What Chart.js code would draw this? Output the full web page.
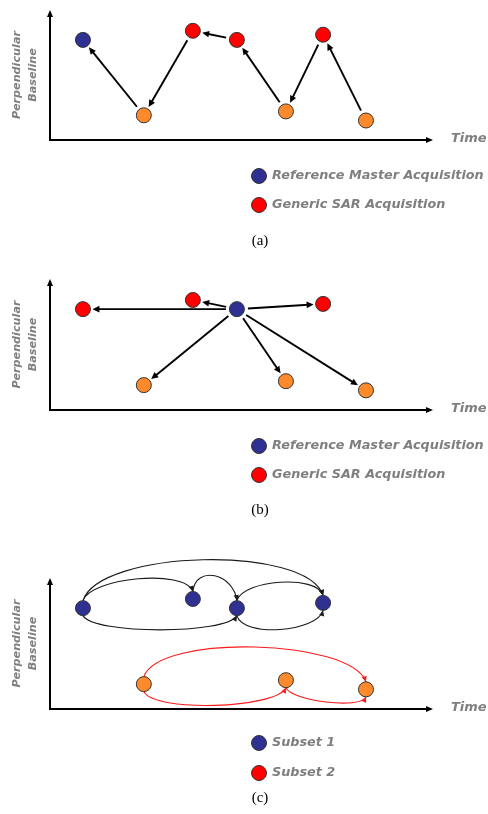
<!DOCTYPE html>
<html>
<head>
<meta charset="utf-8">
<script src="https://cdn.jsdelivr.net/npm/chart.js@4.4.1/dist/chart.umd.min.js"></script>
<style>
  html, body { margin: 0; padding: 0; background: #fff; }
  #page { position: relative; width: 488px; height: 814px; }
  .panel { position: absolute; left: 0; width: 488px; }
  canvas { display: block; }
</style>
</head>
<body>
<div id="page">
  <div class="panel" style="top:0;height:270px"><canvas id="panel-a" width="488" height="270"></canvas></div>
  <div class="panel" style="top:270px;height:270px"><canvas id="panel-b" width="488" height="270"></canvas></div>
  <div class="panel" style="top:540px;height:274px"><canvas id="panel-c" width="488" height="274"></canvas></div>
</div>
<script>
// the same seven acquisitions appear in every panel (time, perpendicular baseline)
const times = [8.6, 24.5, 37.3, 48.8, 61.6, 71.3, 82.5];
const baselines = [77, 19, 84, 77, 22, 81, 15];

// what each acquisition is in each panel
const kindsA = ["master", "low", "sar", "sar", "low", "sar", "low"];
const kindsB = ["sar", "low", "sar", "master", "low", "sar", "low"];
const kindsC = ["subset1", "subset2", "subset1", "subset1", "subset2", "subset1", "subset2"];

// interferometric pairs [from, to]
const linksA = [[1, 0], [2, 1], [3, 2], [4, 3], [5, 4], [6, 5]];
const linksB = [[3, 0], [3, 2], [3, 5], [3, 1], [3, 4], [3, 6]];
const linksC = [[0, 5], [0, 2], [2, 3], [3, 5], [0, 3], [3, 5], [1, 6], [1, 4], [4, 6]];

const legendAB = ["Reference Master Acquisition", "Generic SAR Acquisition"];
const legendC = ["Subset 1", "Subset 2"];

// styling
const dotColors = { master: "#2e3192", sar: "#ff0000", low: "#ff8a2b", subset1: "#2e3192", subset2: "#ff8a2b" };
const arcLift = [51, 23, 27, 21, -19, -22, 43, -21, -13]; // px, + above the dots, - below
const grayText = "#7f7f7f";
const labelFont = 'bold italic {s}px "DejaVu Sans"';

function font(size) {
    return labelFont.replace("{s}", size);
}

function arrowHead(ctx, x, y, angle, len, half) {
    const c = Math.cos(angle), s = Math.sin(angle);
    ctx.beginPath();
    ctx.moveTo(x, y);
    ctx.lineTo(x - len * c + half * s, y - len * s - half * c);
    ctx.lineTo(x - len * c - half * s, y - len * s + half * c);
    ctx.closePath();
    ctx.fill();
}

const diagramPlugin = {
    id: "diagram",
    beforeDatasetsDraw(chart, args, opts) {
        const { ctx, chartArea: a, scales: { x, y } } = chart;
        const px = i => x.getPixelForValue(times[i]);
        const py = i => y.getPixelForValue(baselines[i]);
        ctx.save();

        // axes with arrow tips
        ctx.strokeStyle = "#000";
        ctx.fillStyle = "#000";
        ctx.lineWidth = 2;
        ctx.beginPath();
        ctx.moveTo(a.left, a.top + 5);
        ctx.lineTo(a.left, a.bottom);
        ctx.lineTo(a.right - 5, a.bottom);
        ctx.stroke();
        arrowHead(ctx, a.left, a.top, -Math.PI / 2, 7, 3);
        arrowHead(ctx, a.right, a.bottom, 0, 7, 3);

        const r = 7.5;
        if (opts.curved) {
            ctx.lineWidth = 1.1;
            opts.links.forEach((l, k) => {
                const lift = arcLift[k];
                const side = lift > 0 ? -1 : 1;
                const x0 = px(l[0]), y0 = py(l[0]) + side * r;
                const x1 = px(l[1]), y1 = py(l[1]) + side * r;
                const dx = x1 - x0;
                const c1x = x0 + 0.07 * dx, c2x = x1 - 0.07 * dx;
                const col = opts.kinds[l[0]] === "subset2" ? "#ff1a1a" : "#1a1a1a";
                ctx.strokeStyle = col;
                ctx.fillStyle = col;
                ctx.beginPath();
                ctx.moveTo(x0, y0);
                ctx.bezierCurveTo(c1x, y0 - lift, c2x, y1 - lift, x1, y1);
                ctx.stroke();
                arrowHead(ctx, x1, y1, Math.atan2(lift, x1 - c2x), 5.5, 2.6);
            });
        } else {
            ctx.lineWidth = 1.9;
            opts.links.forEach(l => {
                const x0 = px(l[0]), y0 = py(l[0]);
                const x1 = px(l[1]), y1 = py(l[1]);
                const d = Math.hypot(x1 - x0, y1 - y0);
                const ux = (x1 - x0) / d, uy = (y1 - y0) / d;
                const tx = x1 - ux * 9.5, ty = y1 - uy * 9.5;
                ctx.beginPath();
                ctx.moveTo(x0 + ux * 11, y0 + uy * 11);
                ctx.lineTo(tx - ux * 5, ty - uy * 5);
                ctx.stroke();
                arrowHead(ctx, tx, ty, Math.atan2(uy, ux), 7, 3.3);
            });
        }
        ctx.restore();
    },
    afterDraw(chart, args, opts) {
        const { ctx, chartArea: a } = chart;
        ctx.save();
        ctx.fillStyle = grayText;

        // rotated y title, two lines
        const midY = (a.top + a.bottom) / 2;
        ctx.font = font(11.2);
        ctx.textAlign = "center";
        ctx.textBaseline = "middle";
        [["Perpendicular", 17.5], ["Baseline", 33]].forEach(([t, lx]) => {
            ctx.save();
            ctx.translate(lx, midY);
            ctx.rotate(-Math.PI / 2);
            ctx.fillText(t, 0, 0);
            ctx.restore();
        });

        // x title
        ctx.font = font(13);
        ctx.textAlign = "left";
        ctx.fillText("Time", 451, a.bottom - 1);

        // legend
        opts.legend.forEach((t, i) => {
            const ly = opts.legendY[i];
            ctx.beginPath();
            ctx.arc(259, ly, 7.5, 0, Math.PI * 2);
            ctx.fillStyle = opts.legendColors[i];
            ctx.fill();
            ctx.strokeStyle = "#333";
            ctx.lineWidth = 1;
            ctx.stroke();
            ctx.fillStyle = grayText;
            ctx.font = font(12.8);
            ctx.fillText(t, 272, ly);
        });

        // caption
        ctx.fillStyle = "#000";
        ctx.font = '15px "Liberation Serif"';
        ctx.textAlign = "center";
        ctx.fillText(opts.caption, 260, opts.captionY);
        ctx.restore();
    }
};

function makePanel(id, kinds, links, padTop, padBottom, extra) {
    return new Chart(document.getElementById(id), {
        type: "scatter",
        data: {
            datasets: [{
                data: times.map((t, i) => ({ x: t, y: baselines[i] })),
                pointBackgroundColor: kinds.map(k => dotColors[k]),
                pointBorderColor: "#333",
                pointBorderWidth: 1,
                pointRadius: 7.5,
                clip: false
            }]
        },
        options: {
            responsive: false,
            animation: false,
            devicePixelRatio: 1,
            events: [],
            layout: { padding: { left: 50, right: 55, top: padTop, bottom: padBottom } },
            scales: {
                x: { type: "linear", min: 0, max: 100, display: false },
                y: { type: "linear", min: 0, max: 100, display: false }
            },
            plugins: {
                legend: { display: false },
                tooltip: { enabled: false },
                diagram: Object.assign({ kinds: kinds, links: links }, extra)
            }
        },
        plugins: [diagramPlugin]
    });
}

makePanel("panel-a", kindsA, linksA, 10, 130, {
    curved: false, legend: legendAB, legendColors: [dotColors.master, dotColors.sar],
    legendY: [176, 205], caption: "(a)", captionY: 241
});
makePanel("panel-b", kindsB, linksB, 9, 130, {
    curved: false, legend: legendAB, legendColors: [dotColors.master, dotColors.sar],
    legendY: [176, 205], caption: "(b)", captionY: 240
});
makePanel("panel-c", kindsC, linksC, 38, 105, {
    curved: true, legend: legendC, legendColors: [dotColors.master, dotColors.sar],
    legendY: [203, 233], caption: "(c)", captionY: 258
});
</script>
</body>
</html>
